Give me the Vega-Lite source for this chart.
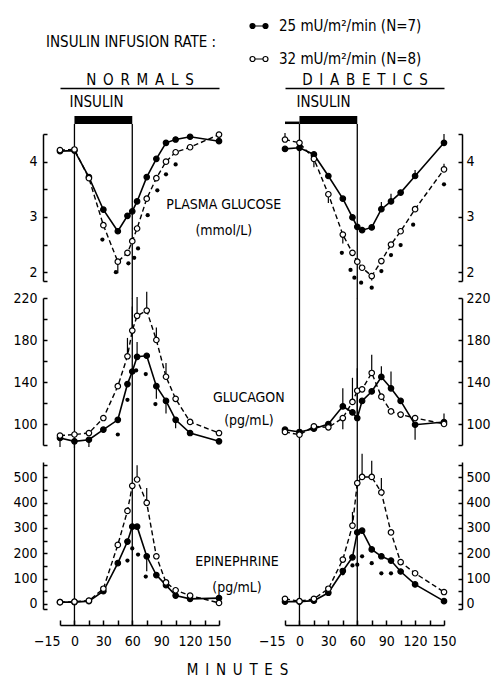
{
  "$schema": "https://vega.github.io/schema/vega-lite/v6.json",
  "padding": {"left": 12, "top": 16, "right": 2, "bottom": 0},
  "background": "white",
  "title": {"text": "M\u2002I\u2002N\u2002U\u2002T\u2002E\u2002S", "orient": "bottom", "anchor": "middle", "fontSize": 15, "fontWeight": "normal", "offset": 15, "dx": -14},
  "datasets": {
    "ins": [{"start": 0, "end": 60}],
    "obs": [
      {"g":"N","m":"glu","s":"A","t":-15,"v":4.19},{"g":"N","m":"glu","s":"A","t":0,"v":4.2},{"g":"N","m":"glu","s":"A","t":15,"v":3.72},{"g":"N","m":"glu","s":"A","t":30,"v":3.13},{"g":"N","m":"glu","s":"A","t":45,"v":2.74},{"g":"N","m":"glu","s":"A","t":55,"v":3.02},{"g":"N","m":"glu","s":"A","t":60,"v":3.1},{"g":"N","m":"glu","s":"A","t":65,"v":3.28},{"g":"N","m":"glu","s":"A","t":75,"v":3.72},{"g":"N","m":"glu","s":"A","t":85,"v":4.05},{"g":"N","m":"glu","s":"A","t":95,"v":4.34},{"g":"N","m":"glu","s":"A","t":105,"v":4.4},{"g":"N","m":"glu","s":"A","t":120,"v":4.45},{"g":"N","m":"glu","s":"A","t":150,"v":4.37},
      {"g":"N","m":"glu","s":"B","t":-15,"v":4.21},{"g":"N","m":"glu","s":"B","t":0,"v":4.22},{"g":"N","m":"glu","s":"B","t":15,"v":3.7},{"g":"N","m":"glu","s":"B","t":30,"v":2.85},{"g":"N","m":"glu","s":"B","t":45,"v":2.19,"e":1.98},{"g":"N","m":"glu","s":"B","t":55,"v":2.35},{"g":"N","m":"glu","s":"B","t":60,"v":2.56},{"g":"N","m":"glu","s":"B","t":65,"v":2.79},{"g":"N","m":"glu","s":"B","t":75,"v":3.33},{"g":"N","m":"glu","s":"B","t":85,"v":3.7},{"g":"N","m":"glu","s":"B","t":95,"v":4.0},{"g":"N","m":"glu","s":"B","t":105,"v":4.17},{"g":"N","m":"glu","s":"B","t":120,"v":4.26},{"g":"N","m":"glu","s":"B","t":150,"v":4.49},
      {"g":"D","m":"glu","s":"A","t":-15,"v":4.23},{"g":"D","m":"glu","s":"A","t":0,"v":4.25},{"g":"D","m":"glu","s":"A","t":15,"v":4.13},{"g":"D","m":"glu","s":"A","t":30,"v":3.74},{"g":"D","m":"glu","s":"A","t":45,"v":3.33},{"g":"D","m":"glu","s":"A","t":55,"v":2.99},{"g":"D","m":"glu","s":"A","t":60,"v":2.82},{"g":"D","m":"glu","s":"A","t":65,"v":2.76},{"g":"D","m":"glu","s":"A","t":75,"v":2.81},{"g":"D","m":"glu","s":"A","t":85,"v":3.14,"e":3.27},{"g":"D","m":"glu","s":"A","t":95,"v":3.28,"e":3.42},{"g":"D","m":"glu","s":"A","t":105,"v":3.44},{"g":"D","m":"glu","s":"A","t":120,"v":3.74,"e":3.85},{"g":"D","m":"glu","s":"A","t":150,"v":4.34,"e":4.5},
      {"g":"D","m":"glu","s":"B","t":-15,"v":4.4,"e":4.52},{"g":"D","m":"glu","s":"B","t":0,"v":4.34},{"g":"D","m":"glu","s":"B","t":15,"v":4.05,"e":3.9},{"g":"D","m":"glu","s":"B","t":30,"v":3.41,"e":3.25},{"g":"D","m":"glu","s":"B","t":45,"v":2.68,"e":2.52},{"g":"D","m":"glu","s":"B","t":55,"v":2.35},{"g":"D","m":"glu","s":"B","t":60,"v":2.19},{"g":"D","m":"glu","s":"B","t":65,"v":2.08},{"g":"D","m":"glu","s":"B","t":75,"v":1.93,"e":1.85},{"g":"D","m":"glu","s":"B","t":85,"v":2.2},{"g":"D","m":"glu","s":"B","t":95,"v":2.5},{"g":"D","m":"glu","s":"B","t":105,"v":2.74},{"g":"D","m":"glu","s":"B","t":120,"v":3.14},{"g":"D","m":"glu","s":"B","t":150,"v":3.86,"e":3.96},
      {"g":"N","m":"gcg","s":"A","t":-15,"v":86.7,"e":78},{"g":"N","m":"gcg","s":"A","t":0,"v":83.5,"e":77},{"g":"N","m":"gcg","s":"A","t":15,"v":85,"e":78},{"g":"N","m":"gcg","s":"A","t":30,"v":94.6},{"g":"N","m":"gcg","s":"A","t":45,"v":104},{"g":"N","m":"gcg","s":"A","t":55,"v":138},{"g":"N","m":"gcg","s":"A","t":60,"v":150},{"g":"N","m":"gcg","s":"A","t":65,"v":164,"e":178},{"g":"N","m":"gcg","s":"A","t":75,"v":165},{"g":"N","m":"gcg","s":"A","t":85,"v":136,"e":124},{"g":"N","m":"gcg","s":"A","t":95,"v":122,"e":110},{"g":"N","m":"gcg","s":"A","t":105,"v":104,"e":96},{"g":"N","m":"gcg","s":"A","t":120,"v":91.4},{"g":"N","m":"gcg","s":"A","t":150,"v":83.5},
      {"g":"N","m":"gcg","s":"B","t":-15,"v":89},{"g":"N","m":"gcg","s":"B","t":0,"v":90},{"g":"N","m":"gcg","s":"B","t":15,"v":91.4},{"g":"N","m":"gcg","s":"B","t":30,"v":105.7},{"g":"N","m":"gcg","s":"B","t":45,"v":136},{"g":"N","m":"gcg","s":"B","t":55,"v":164.5,"e":182},{"g":"N","m":"gcg","s":"B","t":60,"v":189,"e":212},{"g":"N","m":"gcg","s":"B","t":65,"v":203,"e":221},{"g":"N","m":"gcg","s":"B","t":75,"v":208,"e":226},{"g":"N","m":"gcg","s":"B","t":85,"v":180,"e":192},{"g":"N","m":"gcg","s":"B","t":95,"v":145,"e":158},{"g":"N","m":"gcg","s":"B","t":105,"v":124},{"g":"N","m":"gcg","s":"B","t":120,"v":102},{"g":"N","m":"gcg","s":"B","t":150,"v":91.4},
      {"g":"D","m":"gcg","s":"A","t":-15,"v":94.6},{"g":"D","m":"gcg","s":"A","t":0,"v":92.4},{"g":"D","m":"gcg","s":"A","t":15,"v":95.5},{"g":"D","m":"gcg","s":"A","t":30,"v":100},{"g":"D","m":"gcg","s":"A","t":45,"v":116.8,"e":134},{"g":"D","m":"gcg","s":"A","t":55,"v":111},{"g":"D","m":"gcg","s":"A","t":60,"v":105.7,"e":153},{"g":"D","m":"gcg","s":"A","t":65,"v":122},{"g":"D","m":"gcg","s":"A","t":75,"v":131},{"g":"D","m":"gcg","s":"A","t":85,"v":144.8,"e":155},{"g":"D","m":"gcg","s":"A","t":95,"v":134,"e":150},{"g":"D","m":"gcg","s":"A","t":105,"v":122},{"g":"D","m":"gcg","s":"A","t":120,"v":99.3,"e":85},{"g":"D","m":"gcg","s":"A","t":150,"v":101.9},
      {"g":"D","m":"gcg","s":"B","t":-15,"v":92.4},{"g":"D","m":"gcg","s":"B","t":0,"v":89.8},{"g":"D","m":"gcg","s":"B","t":15,"v":97.8},{"g":"D","m":"gcg","s":"B","t":30,"v":96.8},{"g":"D","m":"gcg","s":"B","t":45,"v":105.7,"e":95},{"g":"D","m":"gcg","s":"B","t":55,"v":121,"e":144},{"g":"D","m":"gcg","s":"B","t":60,"v":131.7},{"g":"D","m":"gcg","s":"B","t":65,"v":133},{"g":"D","m":"gcg","s":"B","t":75,"v":148.6,"e":166},{"g":"D","m":"gcg","s":"B","t":85,"v":126},{"g":"D","m":"gcg","s":"B","t":95,"v":112},{"g":"D","m":"gcg","s":"B","t":105,"v":109},{"g":"D","m":"gcg","s":"B","t":120,"v":105.7},{"g":"D","m":"gcg","s":"B","t":150,"v":100,"e":110},
      {"g":"N","m":"epi","s":"A","t":-15,"v":7},{"g":"N","m":"epi","s":"A","t":0,"v":7},{"g":"N","m":"epi","s":"A","t":15,"v":11},{"g":"N","m":"epi","s":"A","t":30,"v":50},{"g":"N","m":"epi","s":"A","t":45,"v":161},{"g":"N","m":"epi","s":"A","t":55,"v":246},{"g":"N","m":"epi","s":"A","t":60,"v":305},{"g":"N","m":"epi","s":"A","t":65,"v":305},{"g":"N","m":"epi","s":"A","t":75,"v":188,"e":129},{"g":"N","m":"epi","s":"A","t":85,"v":114},{"g":"N","m":"epi","s":"A","t":95,"v":74},{"g":"N","m":"epi","s":"A","t":105,"v":33},{"g":"N","m":"epi","s":"A","t":120,"v":20},{"g":"N","m":"epi","s":"A","t":150,"v":23},
      {"g":"N","m":"epi","s":"B","t":-15,"v":7},{"g":"N","m":"epi","s":"B","t":0,"v":9},{"g":"N","m":"epi","s":"B","t":15,"v":13},{"g":"N","m":"epi","s":"B","t":30,"v":60},{"g":"N","m":"epi","s":"B","t":45,"v":233},{"g":"N","m":"epi","s":"B","t":55,"v":367},{"g":"N","m":"epi","s":"B","t":60,"v":466},{"g":"N","m":"epi","s":"B","t":65,"v":491,"e":547},{"g":"N","m":"epi","s":"B","t":75,"v":399,"e":457},{"g":"N","m":"epi","s":"B","t":85,"v":188},{"g":"N","m":"epi","s":"B","t":95,"v":85},{"g":"N","m":"epi","s":"B","t":105,"v":54},{"g":"N","m":"epi","s":"B","t":120,"v":33},{"g":"N","m":"epi","s":"B","t":150,"v":4},
      {"g":"D","m":"epi","s":"A","t":-15,"v":9},{"g":"D","m":"epi","s":"A","t":0,"v":9},{"g":"D","m":"epi","s":"A","t":15,"v":13},{"g":"D","m":"epi","s":"A","t":30,"v":44},{"g":"D","m":"epi","s":"A","t":45,"v":130},{"g":"D","m":"epi","s":"A","t":55,"v":184},{"g":"D","m":"epi","s":"A","t":60,"v":282},{"g":"D","m":"epi","s":"A","t":65,"v":289},{"g":"D","m":"epi","s":"A","t":75,"v":215},{"g":"D","m":"epi","s":"A","t":85,"v":188},{"g":"D","m":"epi","s":"A","t":95,"v":171},{"g":"D","m":"epi","s":"A","t":105,"v":128},{"g":"D","m":"epi","s":"A","t":120,"v":77},{"g":"D","m":"epi","s":"A","t":150,"v":11},
      {"g":"D","m":"epi","s":"B","t":-15,"v":20},{"g":"D","m":"epi","s":"B","t":0,"v":11},{"g":"D","m":"epi","s":"B","t":15,"v":20},{"g":"D","m":"epi","s":"B","t":30,"v":60},{"g":"D","m":"epi","s":"B","t":45,"v":175},{"g":"D","m":"epi","s":"B","t":55,"v":309,"e":363},{"g":"D","m":"epi","s":"B","t":60,"v":477},{"g":"D","m":"epi","s":"B","t":65,"v":501,"e":593},{"g":"D","m":"epi","s":"B","t":75,"v":501,"e":565},{"g":"D","m":"epi","s":"B","t":85,"v":440,"e":497},{"g":"D","m":"epi","s":"B","t":95,"v":282},{"g":"D","m":"epi","s":"B","t":105,"v":165},{"g":"D","m":"epi","s":"B","t":120,"v":121},{"g":"D","m":"epi","s":"B","t":150,"v":47}
    ],
    "sig": [
      {"g":"N","m":"glu","t":29,"v":2.59},{"g":"N","m":"glu","t":43,"v":2.0},{"g":"N","m":"glu","t":56,"v":2.16},{"g":"N","m":"glu","t":62,"v":2.26},{"g":"N","m":"glu","t":66,"v":2.43},{"g":"N","m":"glu","t":76,"v":3.03},{"g":"N","m":"glu","t":86,"v":3.48},{"g":"N","m":"glu","t":95,"v":3.77},{"g":"N","m":"glu","t":105,"v":3.95},
      {"g":"D","m":"glu","t":44,"v":2.35},{"g":"D","m":"glu","t":53,"v":2.04},{"g":"D","m":"glu","t":57,"v":1.9},{"g":"D","m":"glu","t":64,"v":1.81},{"g":"D","m":"glu","t":75,"v":1.72},{"g":"D","m":"glu","t":85,"v":2.02},{"g":"D","m":"glu","t":95,"v":2.31},{"g":"D","m":"glu","t":105,"v":2.49},{"g":"D","m":"glu","t":118,"v":2.86},{"g":"D","m":"glu","t":150,"v":3.59},
      {"g":"N","m":"gcg","t":45,"v":90},{"g":"N","m":"gcg","t":55,"v":123},{"g":"N","m":"gcg","t":64,"v":151},{"g":"N","m":"gcg","t":74,"v":147.6},{"g":"N","m":"gcg","t":84,"v":119},
      {"g":"N","m":"epi","t":55,"v":171},{"g":"N","m":"epi","t":60,"v":219},{"g":"N","m":"epi","t":66,"v":195},{"g":"N","m":"epi","t":74,"v":108},
      {"g":"D","m":"epi","t":45,"v":121},{"g":"D","m":"epi","t":55,"v":152},{"g":"D","m":"epi","t":60,"v":155},{"g":"D","m":"epi","t":65,"v":188},{"g":"D","m":"epi","t":75,"v":161},{"g":"D","m":"epi","t":85,"v":121},{"g":"D","m":"epi","t":95,"v":121}
    ]
  },
  "columns": 2,
  "bounds": "flush",
  "spacing": {"row": 17, "column": 66},
  "concat": [
    {
      "width": 159, "height": 29,
      "layer": [
        {"data": {"name": "ins"}, "mark": {"type": "rect", "fill": "black"},
         "encoding": {"x": {"field": "start", "type": "quantitative", "scale": {"domain": [-15,150], "nice": false, "zero": false}, "axis": {"orient": "top", "domain": true, "ticks": false, "labels": false, "title": "N\u2002O\u2002R\u2002M\u2002A\u2002L\u2002S", "titlePadding": 1, "titleFontSize": 15}},
                      "x2": {"field": "end"},
                      "y": {"datum": -2.41, "type": "quantitative", "scale": {"domain": [0,10], "nice": false, "zero": false}, "axis": null}, "y2": {"datum": 0.34}}},
        {"data": {"name": "ins"}, "mark": {"type": "text", "text": "INSULIN", "align": "left", "baseline": "middle", "fontSize": 15, "dx": -5},
         "encoding": {"x": {"field": "start", "type": "quantitative", "scale": {"domain": [-15,150], "nice": false, "zero": false}, "axis": {"orient": "top", "domain": true, "ticks": false, "labels": false, "title": "N\u2002O\u2002R\u2002M\u2002A\u2002L\u2002S", "titlePadding": 1, "titleFontSize": 15}},
                      "y": {"datum": 5.17, "type": "quantitative", "scale": {"domain": [0,10], "nice": false, "zero": false}, "axis": null}}},
        {"data": {"name": "ins"}, "transform": [{"fold": ["start","end"], "as": ["k","t"]}], "mark": {"type": "rule", "color": "black", "strokeWidth": 1.3},
         "encoding": {"x": {"field": "t", "type": "quantitative", "scale": {"domain": [-15,150], "nice": false, "zero": false}, "axis": {"orient": "top", "domain": true, "ticks": false, "labels": false, "title": "N\u2002O\u2002R\u2002M\u2002A\u2002L\u2002S", "titlePadding": 1, "titleFontSize": 15}},
                      "y": {"datum": -5.86, "type": "quantitative", "scale": {"domain": [0,10], "nice": false, "zero": false}, "axis": null}, "y2": {"datum": -2.41}}}
      ]
    },
    {
      "width": 159, "height": 29,
      "layer": [
        {"data": {"name": "ins"}, "mark": {"type": "rect", "fill": "black"},
         "encoding": {"x": {"field": "start", "type": "quantitative", "scale": {"domain": [-15,150], "nice": false, "zero": false}, "axis": {"orient": "top", "domain": true, "ticks": false, "labels": false, "title": "D\u2002I\u2002A\u2002B\u2002E\u2002T\u2002I\u2002C\u2002S", "titlePadding": 1, "titleFontSize": 15}},
                      "x2": {"field": "end"},
                      "y": {"datum": -2.41, "type": "quantitative", "scale": {"domain": [0,10], "nice": false, "zero": false}, "axis": null}, "y2": {"datum": 0.34}}},
        {"data": {"values": [{}]}, "mark": {"type": "rule", "color": "black", "strokeWidth": 2.5},
         "encoding": {"x": {"datum": -15, "type": "quantitative", "scale": {"domain": [-15,150], "nice": false, "zero": false}, "axis": {"orient": "top", "domain": true, "ticks": false, "labels": false, "title": "D\u2002I\u2002A\u2002B\u2002E\u2002T\u2002I\u2002C\u2002S", "titlePadding": 1, "titleFontSize": 15}},
                      "x2": {"datum": 0},
                      "y": {"datum": -2.0, "type": "quantitative", "scale": {"domain": [0,10], "nice": false, "zero": false}, "axis": null}}},
        {"data": {"name": "ins"}, "mark": {"type": "text", "text": "INSULIN", "align": "left", "baseline": "middle", "fontSize": 15, "dx": -3},
         "encoding": {"x": {"field": "start", "type": "quantitative", "scale": {"domain": [-15,150], "nice": false, "zero": false}, "axis": {"orient": "top", "domain": true, "ticks": false, "labels": false, "title": "D\u2002I\u2002A\u2002B\u2002E\u2002T\u2002I\u2002C\u2002S", "titlePadding": 1, "titleFontSize": 15}},
                      "y": {"datum": 5.17, "type": "quantitative", "scale": {"domain": [0,10], "nice": false, "zero": false}, "axis": null}}},
        {"data": {"name": "ins"}, "transform": [{"fold": ["start","end"], "as": ["k","t"]}], "mark": {"type": "rule", "color": "black", "strokeWidth": 1.3},
         "encoding": {"x": {"field": "t", "type": "quantitative", "scale": {"domain": [-15,150], "nice": false, "zero": false}, "axis": {"orient": "top", "domain": true, "ticks": false, "labels": false, "title": "D\u2002I\u2002A\u2002B\u2002E\u2002T\u2002I\u2002C\u2002S", "titlePadding": 1, "titleFontSize": 15}},
                      "y": {"datum": -5.86, "type": "quantitative", "scale": {"domain": [0,10], "nice": false, "zero": false}, "axis": null}, "y2": {"datum": -2.41}}}
      ]
    },
    {
      "width": 159, "height": 147,
      "layer": [
        {"data": {"name": "ins"}, "transform": [{"fold": ["start","end"], "as": ["k","t"]}], "mark": {"type": "rule", "color": "black", "strokeWidth": 1.3},
         "encoding": {"x": {"field": "t", "type": "quantitative", "scale": {"domain": [-15,150], "nice": false, "zero": false}, "axis": null},
                      "y": {"datum": 1.53, "type": "quantitative", "scale": {"domain": [1.84,4.5], "nice": false, "zero": false}, "axis": {"orient": "left", "offset": 17, "values": [1.84,2,2.5,3,3.5,4,4.5], "labelExpr": "datum.value==2 ? '2' : datum.value==3 ? '3' : datum.value==4 ? '4' : ''", "tickSize": -4, "labelPadding": 10, "title": null, "labelFlush": false, "labelOverlap": false}},
                      "y2": {"datum": 4.5}}},
        {"data": {"name": "obs"}, "transform": [{"filter": "datum.g=='N' && datum.m=='glu' && isValid(datum.e)"}], "mark": {"type": "rule", "color": "black", "strokeWidth": 1.2},
         "encoding": {"x": {"field": "t", "type": "quantitative", "scale": {"domain": [-15,150], "nice": false, "zero": false}, "axis": null},
                      "y": {"field": "v", "type": "quantitative", "scale": {"domain": [1.84,4.5], "nice": false, "zero": false}, "axis": {"orient": "left", "offset": 17, "values": [1.84,2,2.5,3,3.5,4,4.5], "labelExpr": "datum.value==2 ? '2' : datum.value==3 ? '3' : datum.value==4 ? '4' : ''", "tickSize": -4, "labelPadding": 10, "title": null, "labelFlush": false, "labelOverlap": false}},
                      "y2": {"field": "e"}}},
        {"data": {"name": "obs"}, "transform": [{"filter": "datum.g=='N' && datum.m=='glu' && datum.s=='A'"}], "mark": {"type": "line", "color": "black", "strokeWidth": 1.6},
         "encoding": {"x": {"field": "t", "type": "quantitative", "scale": {"domain": [-15,150], "nice": false, "zero": false}, "axis": null},
                      "y": {"field": "v", "type": "quantitative", "scale": {"domain": [1.84,4.5], "nice": false, "zero": false}, "axis": {"orient": "left", "offset": 17, "values": [1.84,2,2.5,3,3.5,4,4.5], "labelExpr": "datum.value==2 ? '2' : datum.value==3 ? '3' : datum.value==4 ? '4' : ''", "tickSize": -4, "labelPadding": 10, "title": null, "labelFlush": false, "labelOverlap": false}}}},
        {"data": {"name": "obs"}, "transform": [{"filter": "datum.g=='N' && datum.m=='glu' && datum.s=='B'"}], "mark": {"type": "line", "color": "black", "strokeWidth": 1.4, "strokeDash": [5,3]},
         "encoding": {"x": {"field": "t", "type": "quantitative", "scale": {"domain": [-15,150], "nice": false, "zero": false}, "axis": null},
                      "y": {"field": "v", "type": "quantitative", "scale": {"domain": [1.84,4.5], "nice": false, "zero": false}, "axis": {"orient": "left", "offset": 17, "values": [1.84,2,2.5,3,3.5,4,4.5], "labelExpr": "datum.value==2 ? '2' : datum.value==3 ? '3' : datum.value==4 ? '4' : ''", "tickSize": -4, "labelPadding": 10, "title": null, "labelFlush": false, "labelOverlap": false}}}},
        {"data": {"name": "sig"}, "transform": [{"filter": "datum.g=='N' && datum.m=='glu'"}], "mark": {"type": "point", "filled": true, "color": "black", "size": 18, "opacity": 1},
         "encoding": {"x": {"field": "t", "type": "quantitative", "scale": {"domain": [-15,150], "nice": false, "zero": false}, "axis": null},
                      "y": {"field": "v", "type": "quantitative", "scale": {"domain": [1.84,4.5], "nice": false, "zero": false}, "axis": {"orient": "left", "offset": 17, "values": [1.84,2,2.5,3,3.5,4,4.5], "labelExpr": "datum.value==2 ? '2' : datum.value==3 ? '3' : datum.value==4 ? '4' : ''", "tickSize": -4, "labelPadding": 10, "title": null, "labelFlush": false, "labelOverlap": false}}}},
        {"data": {"name": "obs"}, "transform": [{"filter": "datum.g=='N' && datum.m=='glu'"}], "mark": {"type": "point", "filled": true, "stroke": "black", "strokeWidth": 1.2, "size": 30, "opacity": 1},
         "encoding": {"x": {"field": "t", "type": "quantitative", "scale": {"domain": [-15,150], "nice": false, "zero": false}, "axis": null},
                      "y": {"field": "v", "type": "quantitative", "scale": {"domain": [1.84,4.5], "nice": false, "zero": false}, "axis": {"orient": "left", "offset": 17, "values": [1.84,2,2.5,3,3.5,4,4.5], "labelExpr": "datum.value==2 ? '2' : datum.value==3 ? '3' : datum.value==4 ? '4' : ''", "tickSize": -4, "labelPadding": 10, "title": null, "labelFlush": false, "labelOverlap": false}},
                      "fill": {"field": "s", "type": "nominal", "scale": {"domain": ["A","B"], "range": ["black","white"]},
                               "legend": {"orient": "none", "legendX": -14, "legendY": -72, "title": "INSULIN INFUSION RATE :", "titleOrient": "left", "titleFontSize": 15, "titleFontWeight": "normal", "titleBaseline": "middle", "titleAnchor": "middle", "titlePadding": 32, "labelFontSize": 15, "labelOffset": 10, "rowPadding": 15, "symbolSize": 324, "symbolStrokeColor": "black", "symbolStrokeWidth": 1.2, "symbolType": "M-1,0A0.28,0.28,0,1,0,-0.44,0A0.28,0.28,0,1,0,-1,0ZM-0.44,0L0.44,0M0.44,0A0.28,0.28,0,1,0,1,0A0.28,0.28,0,1,0,0.44,0Z", "labelExpr": "datum.value=='A' ? '25 mU/m²/min (N=7)' : '32 mU/m²/min (N=8)'"}}}},
        {"data": {"values": [{}]}, "mark": {"type": "text", "text": ["PLASMA GLUCOSE", "(mmol/L)"], "lineHeight": 26, "fontSize": 14, "align": "center", "baseline": "middle"},
         "encoding": {"x": {"datum": 155, "type": "quantitative", "scale": {"domain": [-15,150], "nice": false, "zero": false}, "axis": null},
                      "y": {"datum": 3.215, "type": "quantitative", "scale": {"domain": [1.84,4.5], "nice": false, "zero": false}, "axis": {"orient": "left", "offset": 17, "values": [1.84,2,2.5,3,3.5,4,4.5], "labelExpr": "datum.value==2 ? '2' : datum.value==3 ? '3' : datum.value==4 ? '4' : ''", "tickSize": -4, "labelPadding": 10, "title": null, "labelFlush": false, "labelOverlap": false}}}}
      ]
    },
    {
      "width": 159, "height": 147,
      "layer": [
        {"data": {"name": "ins"}, "transform": [{"fold": ["start","end"], "as": ["k","t"]}], "mark": {"type": "rule", "color": "black", "strokeWidth": 1.3},
         "encoding": {"x": {"field": "t", "type": "quantitative", "scale": {"domain": [-15,150], "nice": false, "zero": false}, "axis": null},
                      "y": {"datum": 1.53, "type": "quantitative", "scale": {"domain": [1.84,4.5], "nice": false, "zero": false}, "axis": {"orient": "right", "offset": 18, "values": [1.84,2,2.5,3,3.5,4,4.5], "labelExpr": "datum.value==2 ? '2' : datum.value==3 ? '3' : datum.value==4 ? '4' : ''", "tickSize": -4, "labelPadding": 8, "title": null, "labelFlush": false, "labelOverlap": false}},
                      "y2": {"datum": 4.5}}},
        {"data": {"name": "obs"}, "transform": [{"filter": "datum.g=='D' && datum.m=='glu' && isValid(datum.e)"}], "mark": {"type": "rule", "color": "black", "strokeWidth": 1.2},
         "encoding": {"x": {"field": "t", "type": "quantitative", "scale": {"domain": [-15,150], "nice": false, "zero": false}, "axis": null},
                      "y": {"field": "v", "type": "quantitative", "scale": {"domain": [1.84,4.5], "nice": false, "zero": false}, "axis": {"orient": "right", "offset": 18, "values": [1.84,2,2.5,3,3.5,4,4.5], "labelExpr": "datum.value==2 ? '2' : datum.value==3 ? '3' : datum.value==4 ? '4' : ''", "tickSize": -4, "labelPadding": 8, "title": null, "labelFlush": false, "labelOverlap": false}},
                      "y2": {"field": "e"}}},
        {"data": {"name": "obs"}, "transform": [{"filter": "datum.g=='D' && datum.m=='glu' && datum.s=='A'"}], "mark": {"type": "line", "color": "black", "strokeWidth": 1.6},
         "encoding": {"x": {"field": "t", "type": "quantitative", "scale": {"domain": [-15,150], "nice": false, "zero": false}, "axis": null},
                      "y": {"field": "v", "type": "quantitative", "scale": {"domain": [1.84,4.5], "nice": false, "zero": false}, "axis": {"orient": "right", "offset": 18, "values": [1.84,2,2.5,3,3.5,4,4.5], "labelExpr": "datum.value==2 ? '2' : datum.value==3 ? '3' : datum.value==4 ? '4' : ''", "tickSize": -4, "labelPadding": 8, "title": null, "labelFlush": false, "labelOverlap": false}}}},
        {"data": {"name": "obs"}, "transform": [{"filter": "datum.g=='D' && datum.m=='glu' && datum.s=='B'"}], "mark": {"type": "line", "color": "black", "strokeWidth": 1.4, "strokeDash": [5,3]},
         "encoding": {"x": {"field": "t", "type": "quantitative", "scale": {"domain": [-15,150], "nice": false, "zero": false}, "axis": null},
                      "y": {"field": "v", "type": "quantitative", "scale": {"domain": [1.84,4.5], "nice": false, "zero": false}, "axis": {"orient": "right", "offset": 18, "values": [1.84,2,2.5,3,3.5,4,4.5], "labelExpr": "datum.value==2 ? '2' : datum.value==3 ? '3' : datum.value==4 ? '4' : ''", "tickSize": -4, "labelPadding": 8, "title": null, "labelFlush": false, "labelOverlap": false}}}},
        {"data": {"name": "sig"}, "transform": [{"filter": "datum.g=='D' && datum.m=='glu'"}], "mark": {"type": "point", "filled": true, "color": "black", "size": 18, "opacity": 1},
         "encoding": {"x": {"field": "t", "type": "quantitative", "scale": {"domain": [-15,150], "nice": false, "zero": false}, "axis": null},
                      "y": {"field": "v", "type": "quantitative", "scale": {"domain": [1.84,4.5], "nice": false, "zero": false}, "axis": {"orient": "right", "offset": 18, "values": [1.84,2,2.5,3,3.5,4,4.5], "labelExpr": "datum.value==2 ? '2' : datum.value==3 ? '3' : datum.value==4 ? '4' : ''", "tickSize": -4, "labelPadding": 8, "title": null, "labelFlush": false, "labelOverlap": false}}}},
        {"data": {"name": "obs"}, "transform": [{"filter": "datum.g=='D' && datum.m=='glu'"}], "mark": {"type": "point", "filled": true, "stroke": "black", "strokeWidth": 1.2, "size": 30, "opacity": 1},
         "encoding": {"x": {"field": "t", "type": "quantitative", "scale": {"domain": [-15,150], "nice": false, "zero": false}, "axis": null},
                      "y": {"field": "v", "type": "quantitative", "scale": {"domain": [1.84,4.5], "nice": false, "zero": false}, "axis": {"orient": "right", "offset": 18, "values": [1.84,2,2.5,3,3.5,4,4.5], "labelExpr": "datum.value==2 ? '2' : datum.value==3 ? '3' : datum.value==4 ? '4' : ''", "tickSize": -4, "labelPadding": 8, "title": null, "labelFlush": false, "labelOverlap": false}},
                      "fill": {"field": "s", "type": "nominal", "scale": {"domain": ["A","B"], "range": ["black","white"]},
                               "legend": {"orient": "none", "legendX": -14, "legendY": -72, "title": "INSULIN INFUSION RATE :", "titleOrient": "left", "titleFontSize": 15, "titleFontWeight": "normal", "titleBaseline": "middle", "titleAnchor": "middle", "titlePadding": 32, "labelFontSize": 15, "labelOffset": 10, "rowPadding": 15, "symbolSize": 324, "symbolStrokeColor": "black", "symbolStrokeWidth": 1.2, "symbolType": "M-1,0A0.28,0.28,0,1,0,-0.44,0A0.28,0.28,0,1,0,-1,0ZM-0.44,0L0.44,0M0.44,0A0.28,0.28,0,1,0,1,0A0.28,0.28,0,1,0,0.44,0Z", "labelExpr": "datum.value=='A' ? '25 mU/m²/min (N=7)' : '32 mU/m²/min (N=8)'"}}}}
      ]
    },
    {
      "width": 159, "height": 147,
      "layer": [
        {"data": {"name": "ins"}, "transform": [{"fold": ["start","end"], "as": ["k","t"]}], "mark": {"type": "rule", "color": "black", "strokeWidth": 1.3},
         "encoding": {"x": {"field": "t", "type": "quantitative", "scale": {"domain": [-15,150], "nice": false, "zero": false}, "axis": null},
                      "y": {"datum": 63.8, "type": "quantitative", "scale": {"domain": [80,220], "nice": false, "zero": false}, "axis": {"orient": "left", "offset": 17, "values": [80,100,120,140,160,180,200,220], "format": "d", "labelExpr": "indexof([100,140,180,220],datum.value)>=0 ? datum.label : ''", "tickSize": -4, "labelPadding": 10, "title": null, "labelFlush": false, "labelOverlap": false}},
                      "y2": {"datum": 220}}},
        {"data": {"name": "obs"}, "transform": [{"filter": "datum.g=='N' && datum.m=='gcg' && isValid(datum.e)"}], "mark": {"type": "rule", "color": "black", "strokeWidth": 1.2},
         "encoding": {"x": {"field": "t", "type": "quantitative", "scale": {"domain": [-15,150], "nice": false, "zero": false}, "axis": null},
                      "y": {"field": "v", "type": "quantitative", "scale": {"domain": [80,220], "nice": false, "zero": false}, "axis": {"orient": "left", "offset": 17, "values": [80,100,120,140,160,180,200,220], "format": "d", "labelExpr": "indexof([100,140,180,220],datum.value)>=0 ? datum.label : ''", "tickSize": -4, "labelPadding": 10, "title": null, "labelFlush": false, "labelOverlap": false}},
                      "y2": {"field": "e"}}},
        {"data": {"name": "obs"}, "transform": [{"filter": "datum.g=='N' && datum.m=='gcg' && datum.s=='A'"}], "mark": {"type": "line", "color": "black", "strokeWidth": 1.6},
         "encoding": {"x": {"field": "t", "type": "quantitative", "scale": {"domain": [-15,150], "nice": false, "zero": false}, "axis": null},
                      "y": {"field": "v", "type": "quantitative", "scale": {"domain": [80,220], "nice": false, "zero": false}, "axis": {"orient": "left", "offset": 17, "values": [80,100,120,140,160,180,200,220], "format": "d", "labelExpr": "indexof([100,140,180,220],datum.value)>=0 ? datum.label : ''", "tickSize": -4, "labelPadding": 10, "title": null, "labelFlush": false, "labelOverlap": false}}}},
        {"data": {"name": "obs"}, "transform": [{"filter": "datum.g=='N' && datum.m=='gcg' && datum.s=='B'"}], "mark": {"type": "line", "color": "black", "strokeWidth": 1.4, "strokeDash": [5,3]},
         "encoding": {"x": {"field": "t", "type": "quantitative", "scale": {"domain": [-15,150], "nice": false, "zero": false}, "axis": null},
                      "y": {"field": "v", "type": "quantitative", "scale": {"domain": [80,220], "nice": false, "zero": false}, "axis": {"orient": "left", "offset": 17, "values": [80,100,120,140,160,180,200,220], "format": "d", "labelExpr": "indexof([100,140,180,220],datum.value)>=0 ? datum.label : ''", "tickSize": -4, "labelPadding": 10, "title": null, "labelFlush": false, "labelOverlap": false}}}},
        {"data": {"name": "sig"}, "transform": [{"filter": "datum.g=='N' && datum.m=='gcg'"}], "mark": {"type": "point", "filled": true, "color": "black", "size": 18, "opacity": 1},
         "encoding": {"x": {"field": "t", "type": "quantitative", "scale": {"domain": [-15,150], "nice": false, "zero": false}, "axis": null},
                      "y": {"field": "v", "type": "quantitative", "scale": {"domain": [80,220], "nice": false, "zero": false}, "axis": {"orient": "left", "offset": 17, "values": [80,100,120,140,160,180,200,220], "format": "d", "labelExpr": "indexof([100,140,180,220],datum.value)>=0 ? datum.label : ''", "tickSize": -4, "labelPadding": 10, "title": null, "labelFlush": false, "labelOverlap": false}}}},
        {"data": {"name": "obs"}, "transform": [{"filter": "datum.g=='N' && datum.m=='gcg'"}], "mark": {"type": "point", "filled": true, "stroke": "black", "strokeWidth": 1.2, "size": 30, "opacity": 1},
         "encoding": {"x": {"field": "t", "type": "quantitative", "scale": {"domain": [-15,150], "nice": false, "zero": false}, "axis": null},
                      "y": {"field": "v", "type": "quantitative", "scale": {"domain": [80,220], "nice": false, "zero": false}, "axis": {"orient": "left", "offset": 17, "values": [80,100,120,140,160,180,200,220], "format": "d", "labelExpr": "indexof([100,140,180,220],datum.value)>=0 ? datum.label : ''", "tickSize": -4, "labelPadding": 10, "title": null, "labelFlush": false, "labelOverlap": false}},
                      "fill": {"field": "s", "type": "nominal", "scale": {"domain": ["A","B"], "range": ["black","white"]},
                               "legend": {"orient": "none", "legendX": -14, "legendY": -72, "title": "INSULIN INFUSION RATE :", "titleOrient": "left", "titleFontSize": 15, "titleFontWeight": "normal", "titleBaseline": "middle", "titleAnchor": "middle", "titlePadding": 32, "labelFontSize": 15, "labelOffset": 10, "rowPadding": 15, "symbolSize": 324, "symbolStrokeColor": "black", "symbolStrokeWidth": 1.2, "symbolType": "M-1,0A0.28,0.28,0,1,0,-0.44,0A0.28,0.28,0,1,0,-1,0ZM-0.44,0L0.44,0M0.44,0A0.28,0.28,0,1,0,1,0A0.28,0.28,0,1,0,0.44,0Z", "labelExpr": "datum.value=='A' ? '25 mU/m²/min (N=7)' : '32 mU/m²/min (N=8)'"}}}},
        {"data": {"values": [{}]}, "mark": {"type": "text", "text": ["GLUCAGON", "(pg/mL)"], "lineHeight": 23, "fontSize": 14, "align": "center", "baseline": "middle"},
         "encoding": {"x": {"datum": 181, "type": "quantitative", "scale": {"domain": [-15,150], "nice": false, "zero": false}, "axis": null},
                      "y": {"datum": 125.2, "type": "quantitative", "scale": {"domain": [80,220], "nice": false, "zero": false}, "axis": {"orient": "left", "offset": 17, "values": [80,100,120,140,160,180,200,220], "format": "d", "labelExpr": "indexof([100,140,180,220],datum.value)>=0 ? datum.label : ''", "tickSize": -4, "labelPadding": 10, "title": null, "labelFlush": false, "labelOverlap": false}}}}
      ]
    },
    {
      "width": 159, "height": 147,
      "layer": [
        {"data": {"name": "ins"}, "transform": [{"fold": ["start","end"], "as": ["k","t"]}], "mark": {"type": "rule", "color": "black", "strokeWidth": 1.3},
         "encoding": {"x": {"field": "t", "type": "quantitative", "scale": {"domain": [-15,150], "nice": false, "zero": false}, "axis": null},
                      "y": {"datum": 63.8, "type": "quantitative", "scale": {"domain": [80,220], "nice": false, "zero": false}, "axis": {"orient": "right", "offset": 18, "values": [80,100,120,140,160,180,200,220], "format": "d", "labelExpr": "indexof([100,140,180,220],datum.value)>=0 ? datum.label : ''", "tickSize": -4, "labelPadding": 8, "title": null, "labelFlush": false, "labelOverlap": false}},
                      "y2": {"datum": 220}}},
        {"data": {"name": "obs"}, "transform": [{"filter": "datum.g=='D' && datum.m=='gcg' && isValid(datum.e)"}], "mark": {"type": "rule", "color": "black", "strokeWidth": 1.2},
         "encoding": {"x": {"field": "t", "type": "quantitative", "scale": {"domain": [-15,150], "nice": false, "zero": false}, "axis": null},
                      "y": {"field": "v", "type": "quantitative", "scale": {"domain": [80,220], "nice": false, "zero": false}, "axis": {"orient": "right", "offset": 18, "values": [80,100,120,140,160,180,200,220], "format": "d", "labelExpr": "indexof([100,140,180,220],datum.value)>=0 ? datum.label : ''", "tickSize": -4, "labelPadding": 8, "title": null, "labelFlush": false, "labelOverlap": false}},
                      "y2": {"field": "e"}}},
        {"data": {"name": "obs"}, "transform": [{"filter": "datum.g=='D' && datum.m=='gcg' && datum.s=='A'"}], "mark": {"type": "line", "color": "black", "strokeWidth": 1.6},
         "encoding": {"x": {"field": "t", "type": "quantitative", "scale": {"domain": [-15,150], "nice": false, "zero": false}, "axis": null},
                      "y": {"field": "v", "type": "quantitative", "scale": {"domain": [80,220], "nice": false, "zero": false}, "axis": {"orient": "right", "offset": 18, "values": [80,100,120,140,160,180,200,220], "format": "d", "labelExpr": "indexof([100,140,180,220],datum.value)>=0 ? datum.label : ''", "tickSize": -4, "labelPadding": 8, "title": null, "labelFlush": false, "labelOverlap": false}}}},
        {"data": {"name": "obs"}, "transform": [{"filter": "datum.g=='D' && datum.m=='gcg' && datum.s=='B'"}], "mark": {"type": "line", "color": "black", "strokeWidth": 1.4, "strokeDash": [5,3]},
         "encoding": {"x": {"field": "t", "type": "quantitative", "scale": {"domain": [-15,150], "nice": false, "zero": false}, "axis": null},
                      "y": {"field": "v", "type": "quantitative", "scale": {"domain": [80,220], "nice": false, "zero": false}, "axis": {"orient": "right", "offset": 18, "values": [80,100,120,140,160,180,200,220], "format": "d", "labelExpr": "indexof([100,140,180,220],datum.value)>=0 ? datum.label : ''", "tickSize": -4, "labelPadding": 8, "title": null, "labelFlush": false, "labelOverlap": false}}}},
        {"data": {"name": "obs"}, "transform": [{"filter": "datum.g=='D' && datum.m=='gcg'"}], "mark": {"type": "point", "filled": true, "stroke": "black", "strokeWidth": 1.2, "size": 30, "opacity": 1},
         "encoding": {"x": {"field": "t", "type": "quantitative", "scale": {"domain": [-15,150], "nice": false, "zero": false}, "axis": null},
                      "y": {"field": "v", "type": "quantitative", "scale": {"domain": [80,220], "nice": false, "zero": false}, "axis": {"orient": "right", "offset": 18, "values": [80,100,120,140,160,180,200,220], "format": "d", "labelExpr": "indexof([100,140,180,220],datum.value)>=0 ? datum.label : ''", "tickSize": -4, "labelPadding": 8, "title": null, "labelFlush": false, "labelOverlap": false}},
                      "fill": {"field": "s", "type": "nominal", "scale": {"domain": ["A","B"], "range": ["black","white"]},
                               "legend": {"orient": "none", "legendX": -14, "legendY": -72, "title": "INSULIN INFUSION RATE :", "titleOrient": "left", "titleFontSize": 15, "titleFontWeight": "normal", "titleBaseline": "middle", "titleAnchor": "middle", "titlePadding": 32, "labelFontSize": 15, "labelOffset": 10, "rowPadding": 15, "symbolSize": 324, "symbolStrokeColor": "black", "symbolStrokeWidth": 1.2, "symbolType": "M-1,0A0.28,0.28,0,1,0,-0.44,0A0.28,0.28,0,1,0,-1,0ZM-0.44,0L0.44,0M0.44,0A0.28,0.28,0,1,0,1,0A0.28,0.28,0,1,0,0.44,0Z", "labelExpr": "datum.value=='A' ? '25 mU/m²/min (N=7)' : '32 mU/m²/min (N=8)'"}}}}
      ]
    },
    {
      "width": 159, "height": 147,
      "layer": [
        {"data": {"name": "ins"}, "transform": [{"fold": ["start","end"], "as": ["k","t"]}], "mark": {"type": "rule", "color": "black", "strokeWidth": 1.3},
         "encoding": {"x": {"field": "t", "type": "quantitative", "scale": {"domain": [-15,150], "nice": false, "zero": false}, "axis": {"orient": "bottom", "offset": 16, "values": [-15,0,15,30,45,60,75,90,105,120,135,150], "format": "d", "labelExpr": "datum.value==-15 || datum.value%30==0 ? datum.label : ''", "labelAlign": {"condition": {"test": "datum.value==-15", "value": "right"}, "value": "center"}, "tickSize": -5, "labelPadding": 14, "title": null, "labelFlush": false, "labelOverlap": false}},
                      "y": {"datum": -83, "type": "quantitative", "scale": {"domain": [-20,560], "nice": false, "zero": false}, "axis": {"orient": "left", "offset": 17, "values": [-20,0,50,100,150,200,250,300,350,400,450,500,550], "format": "d", "labelExpr": "indexof([0,100,200,300,400,500],datum.value)>=0 ? datum.label : ''", "tickSize": -4, "labelPadding": 10, "title": null, "labelFlush": false, "labelOverlap": false}},
                      "y2": {"datum": 560}}},
        {"data": {"name": "obs"}, "transform": [{"filter": "datum.g=='N' && datum.m=='epi' && isValid(datum.e)"}], "mark": {"type": "rule", "color": "black", "strokeWidth": 1.2},
         "encoding": {"x": {"field": "t", "type": "quantitative", "scale": {"domain": [-15,150], "nice": false, "zero": false}, "axis": {"orient": "bottom", "offset": 16, "values": [-15,0,15,30,45,60,75,90,105,120,135,150], "format": "d", "labelExpr": "datum.value==-15 || datum.value%30==0 ? datum.label : ''", "labelAlign": {"condition": {"test": "datum.value==-15", "value": "right"}, "value": "center"}, "tickSize": -5, "labelPadding": 14, "title": null, "labelFlush": false, "labelOverlap": false}},
                      "y": {"field": "v", "type": "quantitative", "scale": {"domain": [-20,560], "nice": false, "zero": false}, "axis": {"orient": "left", "offset": 17, "values": [-20,0,50,100,150,200,250,300,350,400,450,500,550], "format": "d", "labelExpr": "indexof([0,100,200,300,400,500],datum.value)>=0 ? datum.label : ''", "tickSize": -4, "labelPadding": 10, "title": null, "labelFlush": false, "labelOverlap": false}},
                      "y2": {"field": "e"}}},
        {"data": {"name": "obs"}, "transform": [{"filter": "datum.g=='N' && datum.m=='epi' && datum.s=='A'"}], "mark": {"type": "line", "color": "black", "strokeWidth": 1.6},
         "encoding": {"x": {"field": "t", "type": "quantitative", "scale": {"domain": [-15,150], "nice": false, "zero": false}, "axis": {"orient": "bottom", "offset": 16, "values": [-15,0,15,30,45,60,75,90,105,120,135,150], "format": "d", "labelExpr": "datum.value==-15 || datum.value%30==0 ? datum.label : ''", "labelAlign": {"condition": {"test": "datum.value==-15", "value": "right"}, "value": "center"}, "tickSize": -5, "labelPadding": 14, "title": null, "labelFlush": false, "labelOverlap": false}},
                      "y": {"field": "v", "type": "quantitative", "scale": {"domain": [-20,560], "nice": false, "zero": false}, "axis": {"orient": "left", "offset": 17, "values": [-20,0,50,100,150,200,250,300,350,400,450,500,550], "format": "d", "labelExpr": "indexof([0,100,200,300,400,500],datum.value)>=0 ? datum.label : ''", "tickSize": -4, "labelPadding": 10, "title": null, "labelFlush": false, "labelOverlap": false}}}},
        {"data": {"name": "obs"}, "transform": [{"filter": "datum.g=='N' && datum.m=='epi' && datum.s=='B'"}], "mark": {"type": "line", "color": "black", "strokeWidth": 1.4, "strokeDash": [5,3]},
         "encoding": {"x": {"field": "t", "type": "quantitative", "scale": {"domain": [-15,150], "nice": false, "zero": false}, "axis": {"orient": "bottom", "offset": 16, "values": [-15,0,15,30,45,60,75,90,105,120,135,150], "format": "d", "labelExpr": "datum.value==-15 || datum.value%30==0 ? datum.label : ''", "labelAlign": {"condition": {"test": "datum.value==-15", "value": "right"}, "value": "center"}, "tickSize": -5, "labelPadding": 14, "title": null, "labelFlush": false, "labelOverlap": false}},
                      "y": {"field": "v", "type": "quantitative", "scale": {"domain": [-20,560], "nice": false, "zero": false}, "axis": {"orient": "left", "offset": 17, "values": [-20,0,50,100,150,200,250,300,350,400,450,500,550], "format": "d", "labelExpr": "indexof([0,100,200,300,400,500],datum.value)>=0 ? datum.label : ''", "tickSize": -4, "labelPadding": 10, "title": null, "labelFlush": false, "labelOverlap": false}}}},
        {"data": {"name": "sig"}, "transform": [{"filter": "datum.g=='N' && datum.m=='epi'"}], "mark": {"type": "point", "filled": true, "color": "black", "size": 18, "opacity": 1},
         "encoding": {"x": {"field": "t", "type": "quantitative", "scale": {"domain": [-15,150], "nice": false, "zero": false}, "axis": {"orient": "bottom", "offset": 16, "values": [-15,0,15,30,45,60,75,90,105,120,135,150], "format": "d", "labelExpr": "datum.value==-15 || datum.value%30==0 ? datum.label : ''", "labelAlign": {"condition": {"test": "datum.value==-15", "value": "right"}, "value": "center"}, "tickSize": -5, "labelPadding": 14, "title": null, "labelFlush": false, "labelOverlap": false}},
                      "y": {"field": "v", "type": "quantitative", "scale": {"domain": [-20,560], "nice": false, "zero": false}, "axis": {"orient": "left", "offset": 17, "values": [-20,0,50,100,150,200,250,300,350,400,450,500,550], "format": "d", "labelExpr": "indexof([0,100,200,300,400,500],datum.value)>=0 ? datum.label : ''", "tickSize": -4, "labelPadding": 10, "title": null, "labelFlush": false, "labelOverlap": false}}}},
        {"data": {"name": "obs"}, "transform": [{"filter": "datum.g=='N' && datum.m=='epi'"}], "mark": {"type": "point", "filled": true, "stroke": "black", "strokeWidth": 1.2, "size": 30, "opacity": 1},
         "encoding": {"x": {"field": "t", "type": "quantitative", "scale": {"domain": [-15,150], "nice": false, "zero": false}, "axis": {"orient": "bottom", "offset": 16, "values": [-15,0,15,30,45,60,75,90,105,120,135,150], "format": "d", "labelExpr": "datum.value==-15 || datum.value%30==0 ? datum.label : ''", "labelAlign": {"condition": {"test": "datum.value==-15", "value": "right"}, "value": "center"}, "tickSize": -5, "labelPadding": 14, "title": null, "labelFlush": false, "labelOverlap": false}},
                      "y": {"field": "v", "type": "quantitative", "scale": {"domain": [-20,560], "nice": false, "zero": false}, "axis": {"orient": "left", "offset": 17, "values": [-20,0,50,100,150,200,250,300,350,400,450,500,550], "format": "d", "labelExpr": "indexof([0,100,200,300,400,500],datum.value)>=0 ? datum.label : ''", "tickSize": -4, "labelPadding": 10, "title": null, "labelFlush": false, "labelOverlap": false}},
                      "fill": {"field": "s", "type": "nominal", "scale": {"domain": ["A","B"], "range": ["black","white"]},
                               "legend": {"orient": "none", "legendX": -14, "legendY": -72, "title": "INSULIN INFUSION RATE :", "titleOrient": "left", "titleFontSize": 15, "titleFontWeight": "normal", "titleBaseline": "middle", "titleAnchor": "middle", "titlePadding": 32, "labelFontSize": 15, "labelOffset": 10, "rowPadding": 15, "symbolSize": 324, "symbolStrokeColor": "black", "symbolStrokeWidth": 1.2, "symbolType": "M-1,0A0.28,0.28,0,1,0,-0.44,0A0.28,0.28,0,1,0,-1,0ZM-0.44,0L0.44,0M0.44,0A0.28,0.28,0,1,0,1,0A0.28,0.28,0,1,0,0.44,0Z", "labelExpr": "datum.value=='A' ? '25 mU/m²/min (N=7)' : '32 mU/m²/min (N=8)'"}}}},
        {"data": {"values": [{}]}, "mark": {"type": "text", "text": ["EPINEPHRINE", "(pg/mL)"], "lineHeight": 26, "fontSize": 14, "align": "center", "baseline": "middle"},
         "encoding": {"x": {"datum": 168.7, "type": "quantitative", "scale": {"domain": [-15,150], "nice": false, "zero": false}, "axis": {"orient": "bottom", "offset": 16, "values": [-15,0,15,30,45,60,75,90,105,120,135,150], "format": "d", "labelExpr": "datum.value==-15 || datum.value%30==0 ? datum.label : ''", "labelAlign": {"condition": {"test": "datum.value==-15", "value": "right"}, "value": "center"}, "tickSize": -5, "labelPadding": 14, "title": null, "labelFlush": false, "labelOverlap": false}},
                      "y": {"datum": 165.4, "type": "quantitative", "scale": {"domain": [-20,560], "nice": false, "zero": false}, "axis": {"orient": "left", "offset": 17, "values": [-20,0,50,100,150,200,250,300,350,400,450,500,550], "format": "d", "labelExpr": "indexof([0,100,200,300,400,500],datum.value)>=0 ? datum.label : ''", "tickSize": -4, "labelPadding": 10, "title": null, "labelFlush": false, "labelOverlap": false}}}}
      ]
    },
    {
      "width": 159, "height": 147,
      "layer": [
        {"data": {"name": "ins"}, "transform": [{"fold": ["start","end"], "as": ["k","t"]}], "mark": {"type": "rule", "color": "black", "strokeWidth": 1.3},
         "encoding": {"x": {"field": "t", "type": "quantitative", "scale": {"domain": [-15,150], "nice": false, "zero": false}, "axis": {"orient": "bottom", "offset": 16, "values": [-15,0,15,30,45,60,75,90,105,120,135,150], "format": "d", "labelExpr": "datum.value==-15 || datum.value%30==0 ? datum.label : ''", "labelAlign": {"condition": {"test": "datum.value==-15", "value": "right"}, "value": "center"}, "tickSize": -5, "labelPadding": 14, "title": null, "labelFlush": false, "labelOverlap": false}},
                      "y": {"datum": -83, "type": "quantitative", "scale": {"domain": [-20,560], "nice": false, "zero": false}, "axis": {"orient": "right", "offset": 18, "values": [-20,0,50,100,150,200,250,300,350,400,450,500,550], "format": "d", "labelExpr": "indexof([0,100,200,300,400,500],datum.value)>=0 ? datum.label : ''", "tickSize": -4, "labelPadding": 8, "title": null, "labelFlush": false, "labelOverlap": false}},
                      "y2": {"datum": 560}}},
        {"data": {"name": "obs"}, "transform": [{"filter": "datum.g=='D' && datum.m=='epi' && isValid(datum.e)"}], "mark": {"type": "rule", "color": "black", "strokeWidth": 1.2},
         "encoding": {"x": {"field": "t", "type": "quantitative", "scale": {"domain": [-15,150], "nice": false, "zero": false}, "axis": {"orient": "bottom", "offset": 16, "values": [-15,0,15,30,45,60,75,90,105,120,135,150], "format": "d", "labelExpr": "datum.value==-15 || datum.value%30==0 ? datum.label : ''", "labelAlign": {"condition": {"test": "datum.value==-15", "value": "right"}, "value": "center"}, "tickSize": -5, "labelPadding": 14, "title": null, "labelFlush": false, "labelOverlap": false}},
                      "y": {"field": "v", "type": "quantitative", "scale": {"domain": [-20,560], "nice": false, "zero": false}, "axis": {"orient": "right", "offset": 18, "values": [-20,0,50,100,150,200,250,300,350,400,450,500,550], "format": "d", "labelExpr": "indexof([0,100,200,300,400,500],datum.value)>=0 ? datum.label : ''", "tickSize": -4, "labelPadding": 8, "title": null, "labelFlush": false, "labelOverlap": false}},
                      "y2": {"field": "e"}}},
        {"data": {"name": "obs"}, "transform": [{"filter": "datum.g=='D' && datum.m=='epi' && datum.s=='A'"}], "mark": {"type": "line", "color": "black", "strokeWidth": 1.6},
         "encoding": {"x": {"field": "t", "type": "quantitative", "scale": {"domain": [-15,150], "nice": false, "zero": false}, "axis": {"orient": "bottom", "offset": 16, "values": [-15,0,15,30,45,60,75,90,105,120,135,150], "format": "d", "labelExpr": "datum.value==-15 || datum.value%30==0 ? datum.label : ''", "labelAlign": {"condition": {"test": "datum.value==-15", "value": "right"}, "value": "center"}, "tickSize": -5, "labelPadding": 14, "title": null, "labelFlush": false, "labelOverlap": false}},
                      "y": {"field": "v", "type": "quantitative", "scale": {"domain": [-20,560], "nice": false, "zero": false}, "axis": {"orient": "right", "offset": 18, "values": [-20,0,50,100,150,200,250,300,350,400,450,500,550], "format": "d", "labelExpr": "indexof([0,100,200,300,400,500],datum.value)>=0 ? datum.label : ''", "tickSize": -4, "labelPadding": 8, "title": null, "labelFlush": false, "labelOverlap": false}}}},
        {"data": {"name": "obs"}, "transform": [{"filter": "datum.g=='D' && datum.m=='epi' && datum.s=='B'"}], "mark": {"type": "line", "color": "black", "strokeWidth": 1.4, "strokeDash": [5,3]},
         "encoding": {"x": {"field": "t", "type": "quantitative", "scale": {"domain": [-15,150], "nice": false, "zero": false}, "axis": {"orient": "bottom", "offset": 16, "values": [-15,0,15,30,45,60,75,90,105,120,135,150], "format": "d", "labelExpr": "datum.value==-15 || datum.value%30==0 ? datum.label : ''", "labelAlign": {"condition": {"test": "datum.value==-15", "value": "right"}, "value": "center"}, "tickSize": -5, "labelPadding": 14, "title": null, "labelFlush": false, "labelOverlap": false}},
                      "y": {"field": "v", "type": "quantitative", "scale": {"domain": [-20,560], "nice": false, "zero": false}, "axis": {"orient": "right", "offset": 18, "values": [-20,0,50,100,150,200,250,300,350,400,450,500,550], "format": "d", "labelExpr": "indexof([0,100,200,300,400,500],datum.value)>=0 ? datum.label : ''", "tickSize": -4, "labelPadding": 8, "title": null, "labelFlush": false, "labelOverlap": false}}}},
        {"data": {"name": "sig"}, "transform": [{"filter": "datum.g=='D' && datum.m=='epi'"}], "mark": {"type": "point", "filled": true, "color": "black", "size": 18, "opacity": 1},
         "encoding": {"x": {"field": "t", "type": "quantitative", "scale": {"domain": [-15,150], "nice": false, "zero": false}, "axis": {"orient": "bottom", "offset": 16, "values": [-15,0,15,30,45,60,75,90,105,120,135,150], "format": "d", "labelExpr": "datum.value==-15 || datum.value%30==0 ? datum.label : ''", "labelAlign": {"condition": {"test": "datum.value==-15", "value": "right"}, "value": "center"}, "tickSize": -5, "labelPadding": 14, "title": null, "labelFlush": false, "labelOverlap": false}},
                      "y": {"field": "v", "type": "quantitative", "scale": {"domain": [-20,560], "nice": false, "zero": false}, "axis": {"orient": "right", "offset": 18, "values": [-20,0,50,100,150,200,250,300,350,400,450,500,550], "format": "d", "labelExpr": "indexof([0,100,200,300,400,500],datum.value)>=0 ? datum.label : ''", "tickSize": -4, "labelPadding": 8, "title": null, "labelFlush": false, "labelOverlap": false}}}},
        {"data": {"name": "obs"}, "transform": [{"filter": "datum.g=='D' && datum.m=='epi'"}], "mark": {"type": "point", "filled": true, "stroke": "black", "strokeWidth": 1.2, "size": 30, "opacity": 1},
         "encoding": {"x": {"field": "t", "type": "quantitative", "scale": {"domain": [-15,150], "nice": false, "zero": false}, "axis": {"orient": "bottom", "offset": 16, "values": [-15,0,15,30,45,60,75,90,105,120,135,150], "format": "d", "labelExpr": "datum.value==-15 || datum.value%30==0 ? datum.label : ''", "labelAlign": {"condition": {"test": "datum.value==-15", "value": "right"}, "value": "center"}, "tickSize": -5, "labelPadding": 14, "title": null, "labelFlush": false, "labelOverlap": false}},
                      "y": {"field": "v", "type": "quantitative", "scale": {"domain": [-20,560], "nice": false, "zero": false}, "axis": {"orient": "right", "offset": 18, "values": [-20,0,50,100,150,200,250,300,350,400,450,500,550], "format": "d", "labelExpr": "indexof([0,100,200,300,400,500],datum.value)>=0 ? datum.label : ''", "tickSize": -4, "labelPadding": 8, "title": null, "labelFlush": false, "labelOverlap": false}},
                      "fill": {"field": "s", "type": "nominal", "scale": {"domain": ["A","B"], "range": ["black","white"]},
                               "legend": {"orient": "none", "legendX": -14, "legendY": -72, "title": "INSULIN INFUSION RATE :", "titleOrient": "left", "titleFontSize": 15, "titleFontWeight": "normal", "titleBaseline": "middle", "titleAnchor": "middle", "titlePadding": 32, "labelFontSize": 15, "labelOffset": 10, "rowPadding": 15, "symbolSize": 324, "symbolStrokeColor": "black", "symbolStrokeWidth": 1.2, "symbolType": "M-1,0A0.28,0.28,0,1,0,-0.44,0A0.28,0.28,0,1,0,-1,0ZM-0.44,0L0.44,0M0.44,0A0.28,0.28,0,1,0,1,0A0.28,0.28,0,1,0,0.44,0Z", "labelExpr": "datum.value=='A' ? '25 mU/m²/min (N=7)' : '32 mU/m²/min (N=8)'"}}}}
      ]
    }
  ],
  "config": {
    "font": "Liberation Sans Narrow, DejaVu Sans Condensed, sans-serif",
    "view": {"stroke": null},
    "axis": {"domainColor": "black", "domainWidth": 1.5, "tickColor": "black", "tickWidth": 1.5, "labelColor": "black", "labelFont": "Liberation Sans Narrow, DejaVu Sans Condensed, sans-serif", "labelFontSize": 14, "titleFont": "Liberation Sans Narrow, DejaVu Sans Condensed, sans-serif", "titleColor": "black", "titleFontWeight": "normal", "grid": false},
    "legend": {"labelFont": "Liberation Sans Narrow, DejaVu Sans Condensed, sans-serif", "titleFont": "Liberation Sans Narrow, DejaVu Sans Condensed, sans-serif", "labelColor": "black", "titleColor": "black"},
    "title": {"font": "Liberation Sans Narrow, DejaVu Sans Condensed, sans-serif", "color": "black"},
    "text": {"font": "Liberation Sans Narrow, DejaVu Sans Condensed, sans-serif", "fontSize": 15, "fill": "black"}
  }
}
